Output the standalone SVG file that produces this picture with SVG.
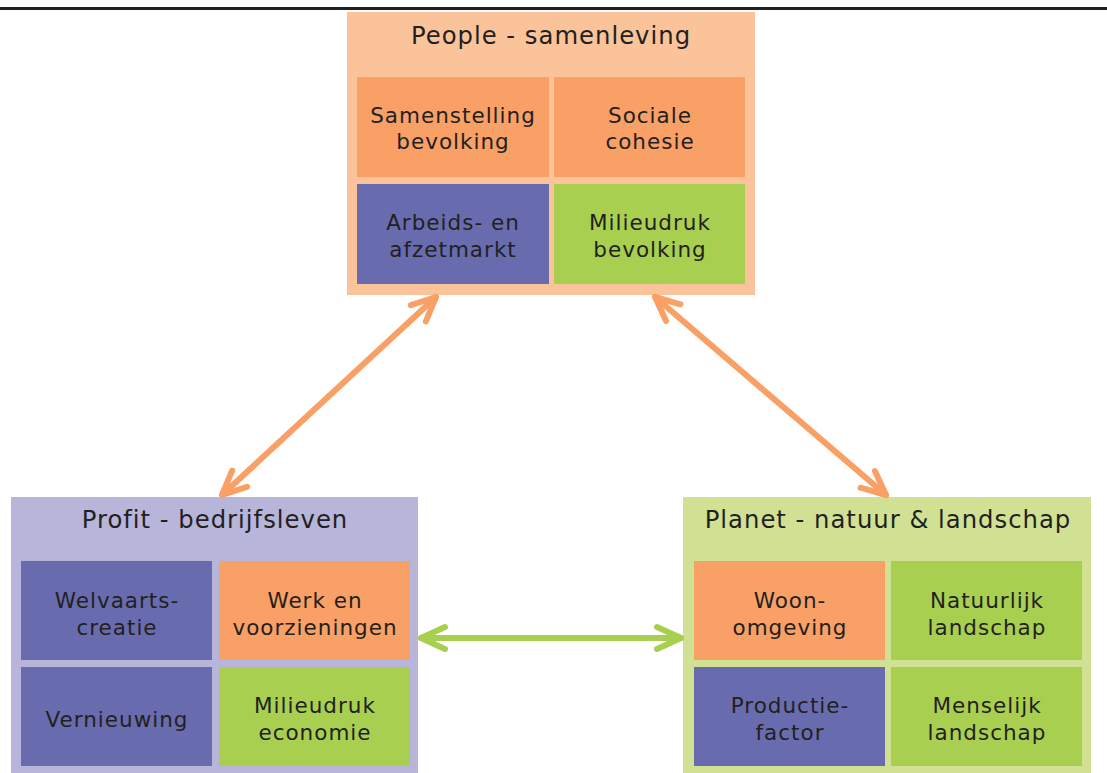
<svg xmlns="http://www.w3.org/2000/svg" width="1107" height="773" viewBox="0 0 1107 773">
<defs>
<style>
.txt{font-family:"DejaVu Sans","Verdana",sans-serif;fill:#231F20;text-anchor:middle}
.title{font-size:24.3px;letter-spacing:1px}
.cell{font-size:21.5px;letter-spacing:1px}
.bgPeople{fill:#FBC39A}
.bgProfit{fill:#B7B5DA}
.bgPlanet{fill:#D1E193}
.orange{fill:#F9A066}
.blue{fill:#686CAF}
.green{fill:#A8CF4F}
.conn{fill:none;stroke-width:6;stroke-linecap:round}
.connO{stroke:#F9A066}
.connG{stroke:#A8CF4F}
</style>
<marker id="headO" markerUnits="userSpaceOnUse" viewBox="-30 -16 34 32" refX="0" refY="0" markerWidth="34" markerHeight="32" orient="auto-start-reverse" overflow="visible">
<path d="M-24,-11 L0,0 L-24,11" fill="none" stroke="#F9A066" stroke-width="6" stroke-linecap="round" stroke-linejoin="round"/>
</marker>
<marker id="headG" markerUnits="userSpaceOnUse" viewBox="-30 -16 34 32" refX="0" refY="0" markerWidth="34" markerHeight="32" orient="auto-start-reverse" overflow="visible">
<path d="M-24,-11 L0,0 L-24,11" fill="none" stroke="#A8CF4F" stroke-width="6" stroke-linecap="round" stroke-linejoin="round"/>
</marker>
</defs>
<rect x="0" y="0" width="1107" height="773" fill="#FFFFFF"/>
<rect x="0" y="7" width="1107" height="3" fill="#231F20"/>

<g id="people">
<rect class="bgPeople" x="347" y="12" width="408" height="283"/>
<text class="txt title" x="551" y="44">People - samenleving</text>
<g id="samenstelling-bevolking">
<rect class="orange" x="357" y="77" width="192" height="100"/>
<text class="txt cell" x="453" y="123">Samenstelling</text>
<text class="txt cell" x="453" y="149">bevolking</text>
</g>
<g id="sociale-cohesie">
<rect class="orange" x="554" y="77" width="191" height="100"/>
<text class="txt cell" x="650" y="123">Sociale</text>
<text class="txt cell" x="650" y="149">cohesie</text>
</g>
<g id="arbeids-afzetmarkt">
<rect class="blue" x="357" y="184" width="192" height="100"/>
<text class="txt cell" x="453" y="230">Arbeids- en</text>
<text class="txt cell" x="453" y="257">afzetmarkt</text>
</g>
<g id="milieudruk-bevolking">
<rect class="green" x="554" y="184" width="191" height="100"/>
<text class="txt cell" x="650" y="230">Milieudruk</text>
<text class="txt cell" x="650" y="257">bevolking</text>
</g>
</g>

<g id="profit">
<rect class="bgProfit" x="11" y="497" width="407" height="276"/>
<text class="txt title" x="215" y="528">Profit - bedrijfsleven</text>
<g id="welvaartscreatie">
<rect class="blue" x="21" y="561" width="191" height="99"/>
<text class="txt cell" x="117" y="608">Welvaarts-</text>
<text class="txt cell" x="117" y="635">creatie</text>
</g>
<g id="werk-voorzieningen">
<rect class="orange" x="219" y="561" width="191" height="99"/>
<text class="txt cell" x="315" y="608">Werk en</text>
<text class="txt cell" x="315" y="635">voorzieningen</text>
</g>
<g id="vernieuwing">
<rect class="blue" x="21" y="667" width="191" height="99"/>
<text class="txt cell" x="117" y="727">Vernieuwing</text>
</g>
<g id="milieudruk-economie">
<rect class="green" x="219" y="667" width="191" height="99"/>
<text class="txt cell" x="315" y="713">Milieudruk</text>
<text class="txt cell" x="315" y="740">economie</text>
</g>
</g>

<g id="planet">
<rect class="bgPlanet" x="683" y="497" width="408" height="276"/>
<text class="txt title" x="888" y="528">Planet - natuur &amp; landschap</text>
<g id="woonomgeving">
<rect class="orange" x="694" y="561" width="191" height="99"/>
<text class="txt cell" x="790" y="608">Woon-</text>
<text class="txt cell" x="790" y="635">omgeving</text>
</g>
<g id="natuurlijk-landschap">
<rect class="green" x="891" y="561" width="191" height="99"/>
<text class="txt cell" x="987" y="608">Natuurlijk</text>
<text class="txt cell" x="987" y="635">landschap</text>
</g>
<g id="productiefactor">
<rect class="blue" x="694" y="667" width="191" height="99"/>
<text class="txt cell" x="790" y="713">Productie-</text>
<text class="txt cell" x="790" y="740">factor</text>
</g>
<g id="menselijk-landschap">
<rect class="green" x="891" y="667" width="191" height="99"/>
<text class="txt cell" x="987" y="713">Menselijk</text>
<text class="txt cell" x="987" y="740">landschap</text>
</g>
</g>

<g id="connectors">
<line class="conn connO" x1="222" y1="495" x2="436" y2="297" marker-start="url(#headO)" marker-end="url(#headO)"/>
<line class="conn connO" x1="655" y1="297" x2="886" y2="495" marker-start="url(#headO)" marker-end="url(#headO)"/>
<line class="conn connG" x1="421" y1="638" x2="681" y2="638" marker-start="url(#headG)" marker-end="url(#headG)"/>
</g>
</svg>
